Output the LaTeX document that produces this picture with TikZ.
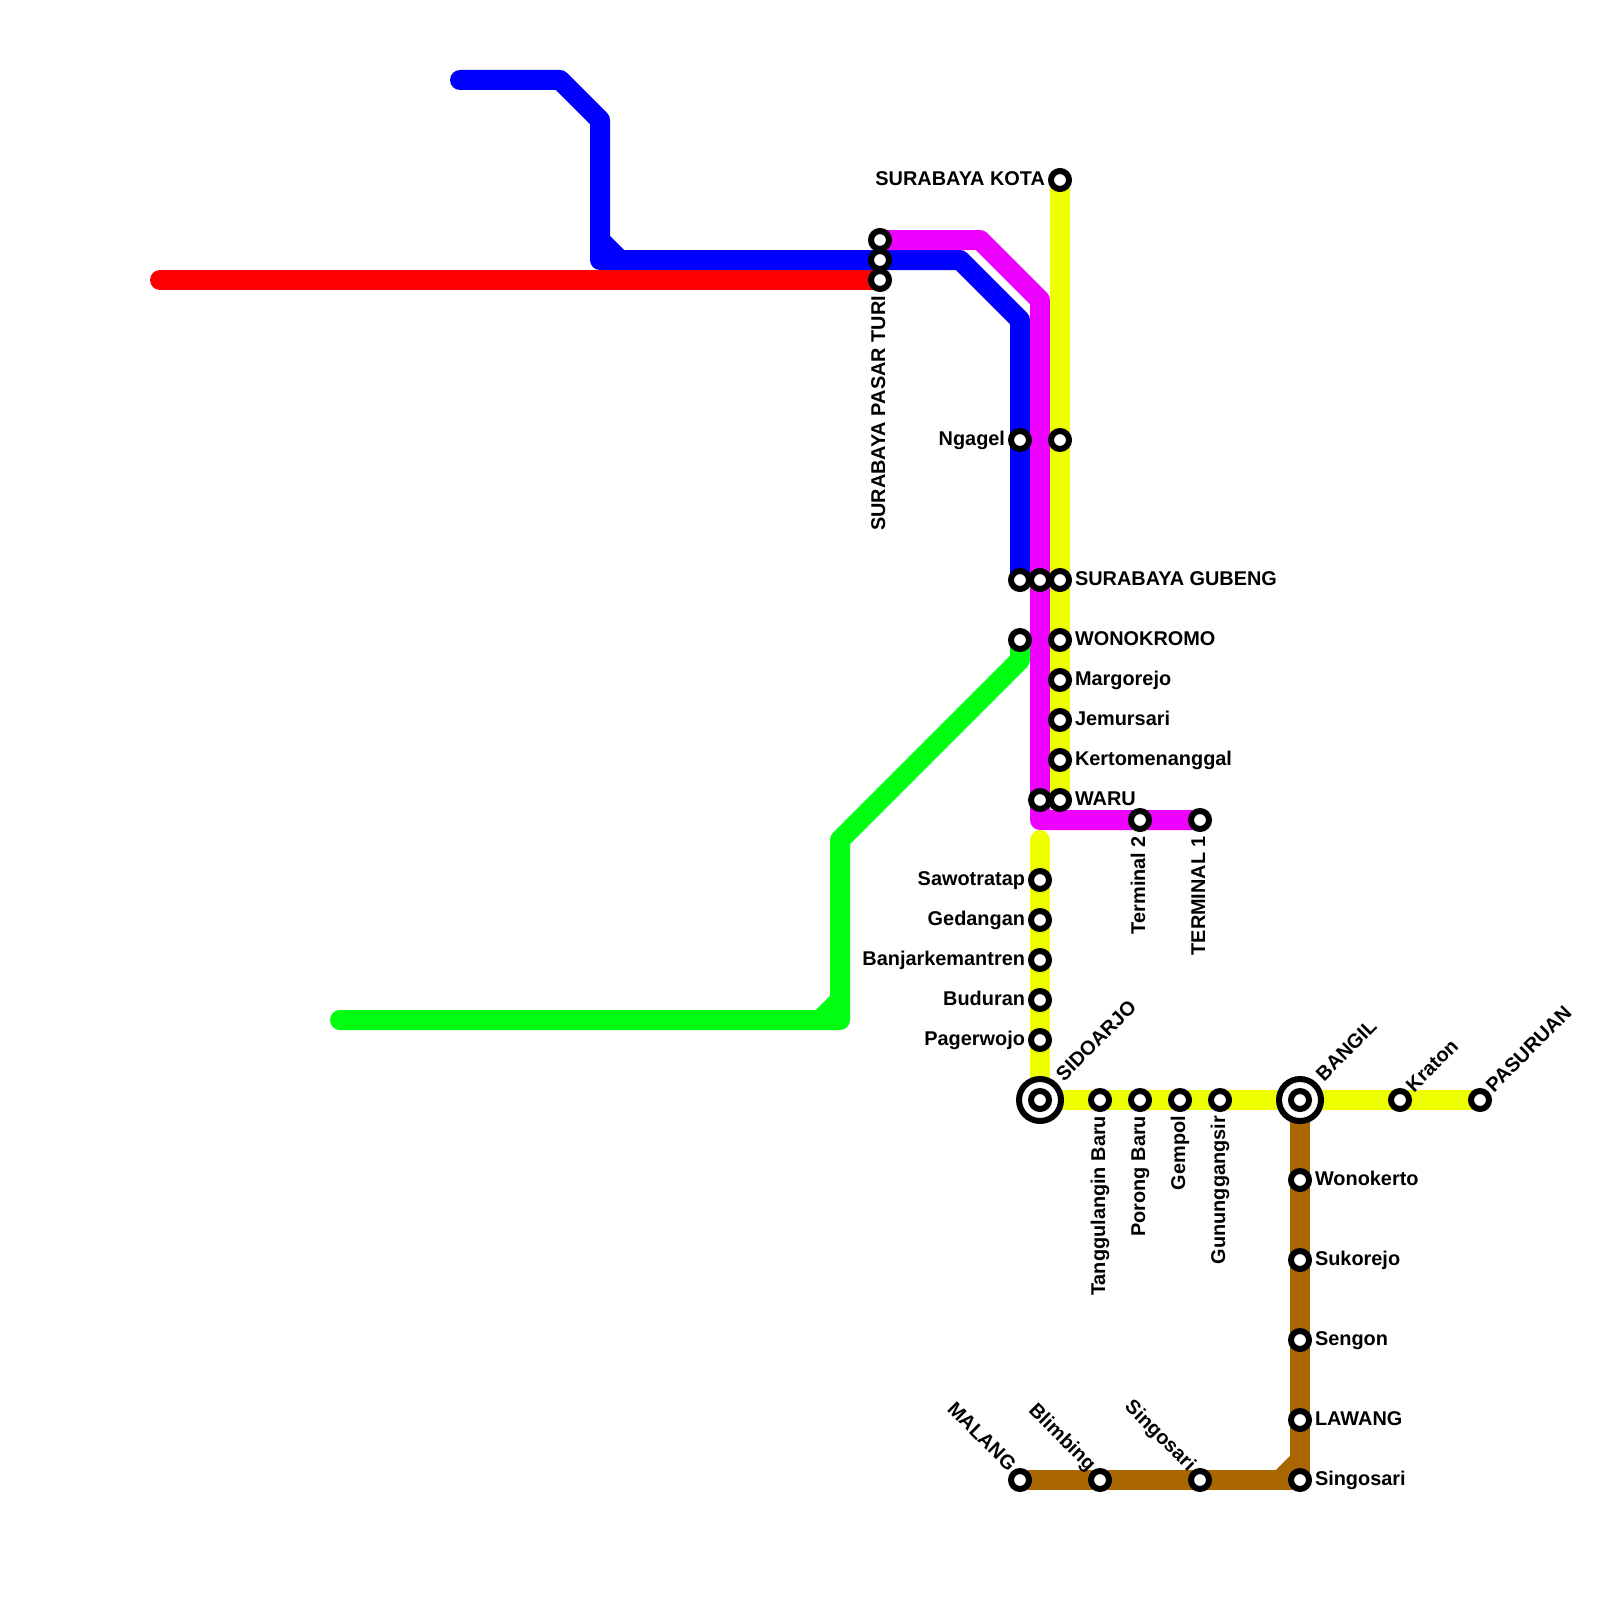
\documentclass[tikz,border=0pt]{standalone}
\usepackage{fontspec}
\setmainfont{Liberation Sans}
\pgfdeclarelayer{bg}
\pgfsetlayers{bg,main}
\definecolor{cyel}{RGB}{238,255,0}
\definecolor{cmag}{RGB}{238,0,255}
\definecolor{cgrn}{RGB}{0,255,17}
\definecolor{cbrn}{RGB}{170,102,0}
\tikzset{
  metro/.style={line width=20pt,line cap=round,line join=round},
  stn/.style={circle,draw=black,fill=white,line width=6pt,inner sep=0pt,minimum size=18pt,outer sep=0pt},
  hub/.style={circle,draw=black,fill=white,line width=6pt,inner sep=0pt,minimum size=42pt,outer sep=0pt},
  lab/.style={font=\fontsize{19.9}{20}\selectfont\bfseries,inner sep=0pt,outer sep=0pt,text=black},
  rlab/.style={lab,anchor=base west},
  llab/.style={lab,anchor=base east},
  dlab/.style={lab,anchor=base east,rotate=90},
  ulab/.style={lab,anchor=base west,rotate=45},
  blab/.style={lab,anchor=base east,rotate=-45},
}
\newcommand{\stR}[4]{\node[stn] (#1) at (#2,#3) {}; \node[rlab] (#1t) at ([shift={(15,5)}]#1.center) {#4};}
\newcommand{\stL}[4]{\node[stn] (#1) at (#2,#3) {}; \node[llab] (#1t) at ([shift={(-15,5)}]#1.center) {#4};}
\newcommand{\stD}[4]{\node[stn] (#1) at (#2,#3) {}; \node[dlab] (#1t) at ([shift={(5,16)}]#1.center) {#4};}
\newcommand{\stU}[4]{\node[stn] (#1) at (#2,#3) {}; \node[ulab] (#1t) at ([shift={(14,-7)}]#1.center) {#4};}
\newcommand{\stB}[4]{\node[stn] (#1) at (#2,#3) {}; \node[blab] (#1t) at ([shift={(-12,-8)}]#1.center) {#4};}
\begin{document}
\begin{tikzpicture}[x=1pt,y=-1pt]
\useasboundingbox (0,0) rectangle (1600,1600);
% corner points
\coordinate (r0) at (160,280);
\coordinate (b0) at (460,80);
\coordinate (b1) at (560,80);
\coordinate (b2) at (600,120);
\coordinate (b3) at (600,240);
\coordinate (b4) at (600,260);
\coordinate (b5) at (620,260);
\coordinate (b6) at (960,260);
\coordinate (b7) at (1020,320);
\coordinate (m1) at (980,240);
\coordinate (m2) at (1040,300);
\coordinate (m3) at (1040,820);
\coordinate (g0) at (340,1020);
\coordinate (g1) at (820,1020);
\coordinate (g2) at (840,1020);
\coordinate (g3) at (840,1000);
\coordinate (g4) at (840,840);
\coordinate (g5) at (1020,660);
\coordinate (y0) at (1040,840);
\coordinate (n1) at (1300,1460);
\coordinate (n2) at (1280,1480);
% stations
\node[stn] (pt1) at (880,240) {};
\node[stn] (pt2) at (880,260) {};
\stD{pt3}{880}{280}{SURABAYA PASAR TURI}
\stL{kota}{1060}{180}{SURABAYA KOTA}
\stL{ngagel}{1020}{440}{Ngagel}
\node[stn] (yc) at (1060,440) {};
\node[stn] (gb1) at (1020,580) {};
\node[stn] (gb2) at (1040,580) {};
\stR{gb3}{1060}{580}{SURABAYA GUBENG}
\node[stn] (wk1) at (1020,640) {};
\stR{wk2}{1060}{640}{WONOKROMO}
\stR{mg}{1060}{680}{Margorejo}
\stR{jm}{1060}{720}{Jemursari}
\stR{kt}{1060}{760}{Kertomenanggal}
\node[stn] (wr1) at (1040,800) {};
\stR{wr2}{1060}{800}{WARU}
\stD{t2}{1140}{820}{Terminal 2}
\stD{t1}{1200}{820}{TERMINAL 1}
\stL{sw}{1040}{880}{Sawotratap}
\stL{gd}{1040}{920}{Gedangan}
\stL{bj}{1040}{960}{Banjarkemantren}
\stL{bd}{1040}{1000}{Buduran}
\stL{pg}{1040}{1040}{Pagerwojo}
\node[hub] (sda) at (1040,1100) {};
\node[stn] (sdai) at (1040,1100) {};
\node[ulab] (sdat) at ([shift={(24,-18)}]sda.center) {SIDOARJO};
\stD{tg}{1100}{1100}{Tanggulangin Baru}
\stD{pr}{1140}{1100}{Porong Baru}
\stD{gm}{1180}{1100}{Gempol}
\stD{gg}{1220}{1100}{Gununggangsir}
\node[hub] (bg) at (1300,1100) {};
\node[stn] (bgi) at (1300,1100) {};
\node[ulab] (bgt) at ([shift={(24,-18)}]bg.center) {BANGIL};
\stU{kr}{1400}{1100}{Kraton}
\stU{ps}{1480}{1100}{PASURUAN}
\stR{wn}{1300}{1180}{Wonokerto}
\stR{sk}{1300}{1260}{Sukorejo}
\stR{sn}{1300}{1340}{Sengon}
\stR{lw}{1300}{1420}{LAWANG}
\stR{sg1}{1300}{1480}{Singosari}
\stB{ml}{1020}{1480}{MALANG}
\stB{bl}{1100}{1480}{Blimbing}
\stB{sg2}{1200}{1480}{Singosari}
% lines
\begin{pgfonlayer}{bg}
\draw[metro,red] (r0) -- (pt3.center);
\draw[metro,blue] (b0) -- (b1) -- (b2) -- (b4) -- (pt2.center) -- (b6) -- (b7) -- (gb1.center);
\draw[metro,blue] (b3) -- (b5);
\draw[metro,cmag] (pt1.center) -- (m1) -- (m2) -- (m3) -- (t1.center);
\draw[metro,cgrn] (g0) -- (g2) -- (g4) -- (g5) -- (wk1.center);
\draw[metro,cgrn] (g1) -- (g3);
\draw[metro,cyel] (kota.center) -- (wr2.center);
\draw[metro,cyel] (y0) -- (sda.center) -- (ps.center);
\draw[metro,cbrn] (bg.center) -- (sg1.center) -- (ml.center);
\draw[metro,cbrn] (n1) -- (n2);
\end{pgfonlayer}
\end{tikzpicture}
\end{document}
